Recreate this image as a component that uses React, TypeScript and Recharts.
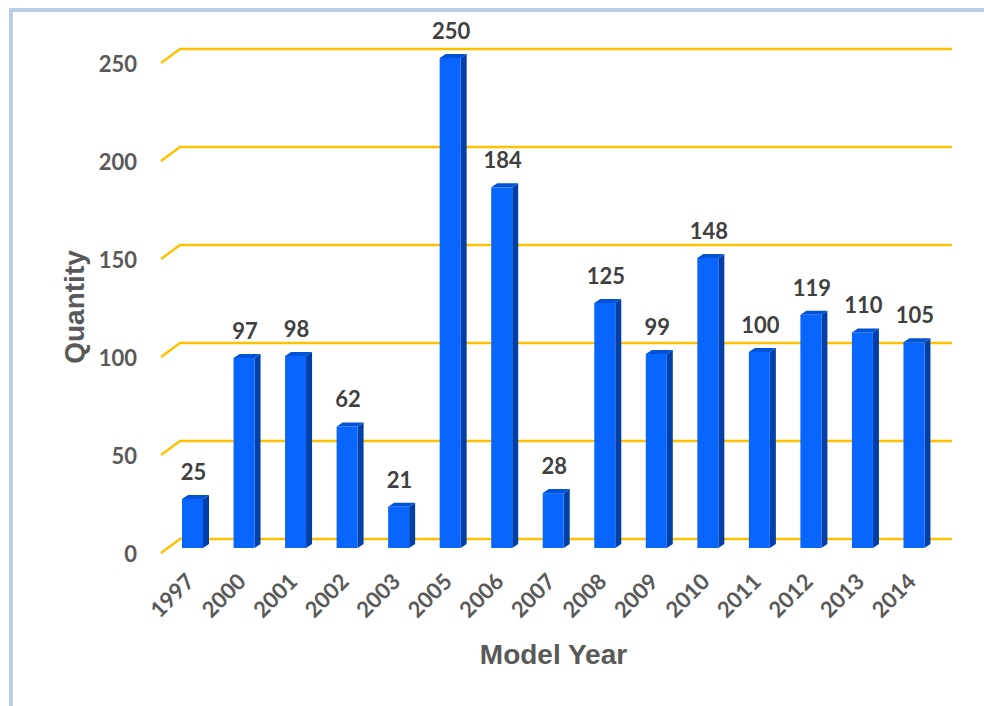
import { Bar, BarChart, CartesianGrid, LabelList, XAxis, YAxis } from "recharts";

const years = ["1997", "2000", "2001", "2002", "2003", "2005", "2006", "2007", "2008", "2009", "2010", "2011", "2012", "2013", "2014"];
const quantities = [25, 97, 98, 62, 21, 250, 184, 28, 125, 99, 148, 100, 119, 110, 105];
const yTicks = [0, 50, 100, 150, 200, 250];

const data = years.map((year, i) => ({ year, quantity: quantities[i] }));

const GOLD = "#ffc000";
const GREY = "#595959";
const LABEL_FONT = "Lato, 'Open Sans', sans-serif";
const TITLE_FONT = "'Liberation Sans', Arial, sans-serif";

// 3d-ish column: front face, right side, top
function Column(props: any) {
  const { x, y, width, height } = props;
  if (height == null || height <= 0) return null;
  const dx = 6;
  const dy = 4;
  return (
    <g>
      <polygon
        points={`${x + width},${y} ${x + width + dx},${y - dy} ${x + width + dx},${y + height - dy} ${x + width},${y + height}`}
        fill="#0040a8"
      />
      <polygon
        points={`${x},${y} ${x + dx},${y - dy} ${x + width + dx},${y - dy} ${x + width},${y}`}
        fill="#0052d6"
      />
      <rect x={x} y={y} width={width} height={height} fill="#0866ff" />
    </g>
  );
}

function GridLine(props: any) {
  const { x1, x2, y1 } = props;
  return (
    <path
      d={`M${x1 - 6},${y1 + 5} L${x1 + 13},${y1 - 9} L${x2 + 12},${y1 - 9}`}
      stroke={GOLD}
      strokeWidth={2.5}
      fill="none"
    />
  );
}

function YTick(props: any) {
  const { y, payload } = props;
  return (
    <text x={137} y={y + 5} textAnchor="end" dominantBaseline="central" fill={GREY} fontSize={22} fontWeight={700} fontFamily={LABEL_FONT}>
      {payload.value}
    </text>
  );
}

function XTick(props: any) {
  const { x, payload } = props;
  const tx = x + 3;
  const ty = 583;
  return (
    <text x={tx} y={ty} transform={`rotate(-45 ${tx} ${ty})`} textAnchor="end" fill={GREY} fontSize={22} fontWeight={700} fontFamily={LABEL_FONT}>
      {payload.value}
    </text>
  );
}

function ValueLabel(props: any) {
  const { x, y, width, value } = props;
  return (
    <text x={x + width / 2 + 1} y={y - 19} textAnchor="middle" fill="#404040" fontSize={22} fontWeight={700} fontFamily={LABEL_FONT}>
      {value}
    </text>
  );
}

export default function App() {
  return (
    <div style={{ position: "fixed", left: 0, top: 0, width: 984, height: 706, background: "#fff" }}>
      <div
        style={{
          position: "absolute",
          left: 9,
          top: 8,
          right: 0,
          bottom: 0,
          borderTop: "4px solid #b9cde5",
          borderLeft: "4px solid #b9cde5",
        }}
      />
      <div style={{ position: "absolute", left: 0, top: 0 }}>
        <BarChart width={984} height={706} data={data} margin={{ top: 58, right: 44, bottom: 0, left: 0 }} barSize={21}>
          <CartesianGrid vertical={false} horizontal={(p: any) => <GridLine key={p.key} {...p} />} />
          <XAxis
            dataKey="year"
            height={158}
            interval={0}
            axisLine={false}
            tickLine={false}
            tick={<XTick />}
            label={{ value: "Model Year", position: "insideBottom", offset: 42, fill: GREY, fontSize: 28, fontWeight: 700, fontFamily: TITLE_FONT }}
          />
          <YAxis
            width={167}
            domain={[0, 250]}
            ticks={yTicks}
            axisLine={false}
            tickLine={false}
            tick={<YTick />}
            label={{
              content: () => (
                <text x={74} y={307} transform="rotate(-90 74 307)" textAnchor="middle" dominantBaseline="central" fill={GREY} fontSize={28} fontWeight={700} fontFamily={TITLE_FONT}>
                  Quantity
                </text>
              ),
            }}
          />
          <Bar dataKey="quantity" shape={<Column />} isAnimationActive={false}>
            <LabelList dataKey="quantity" content={<ValueLabel />} />
          </Bar>
        </BarChart>
      </div>
    </div>
  );
}
